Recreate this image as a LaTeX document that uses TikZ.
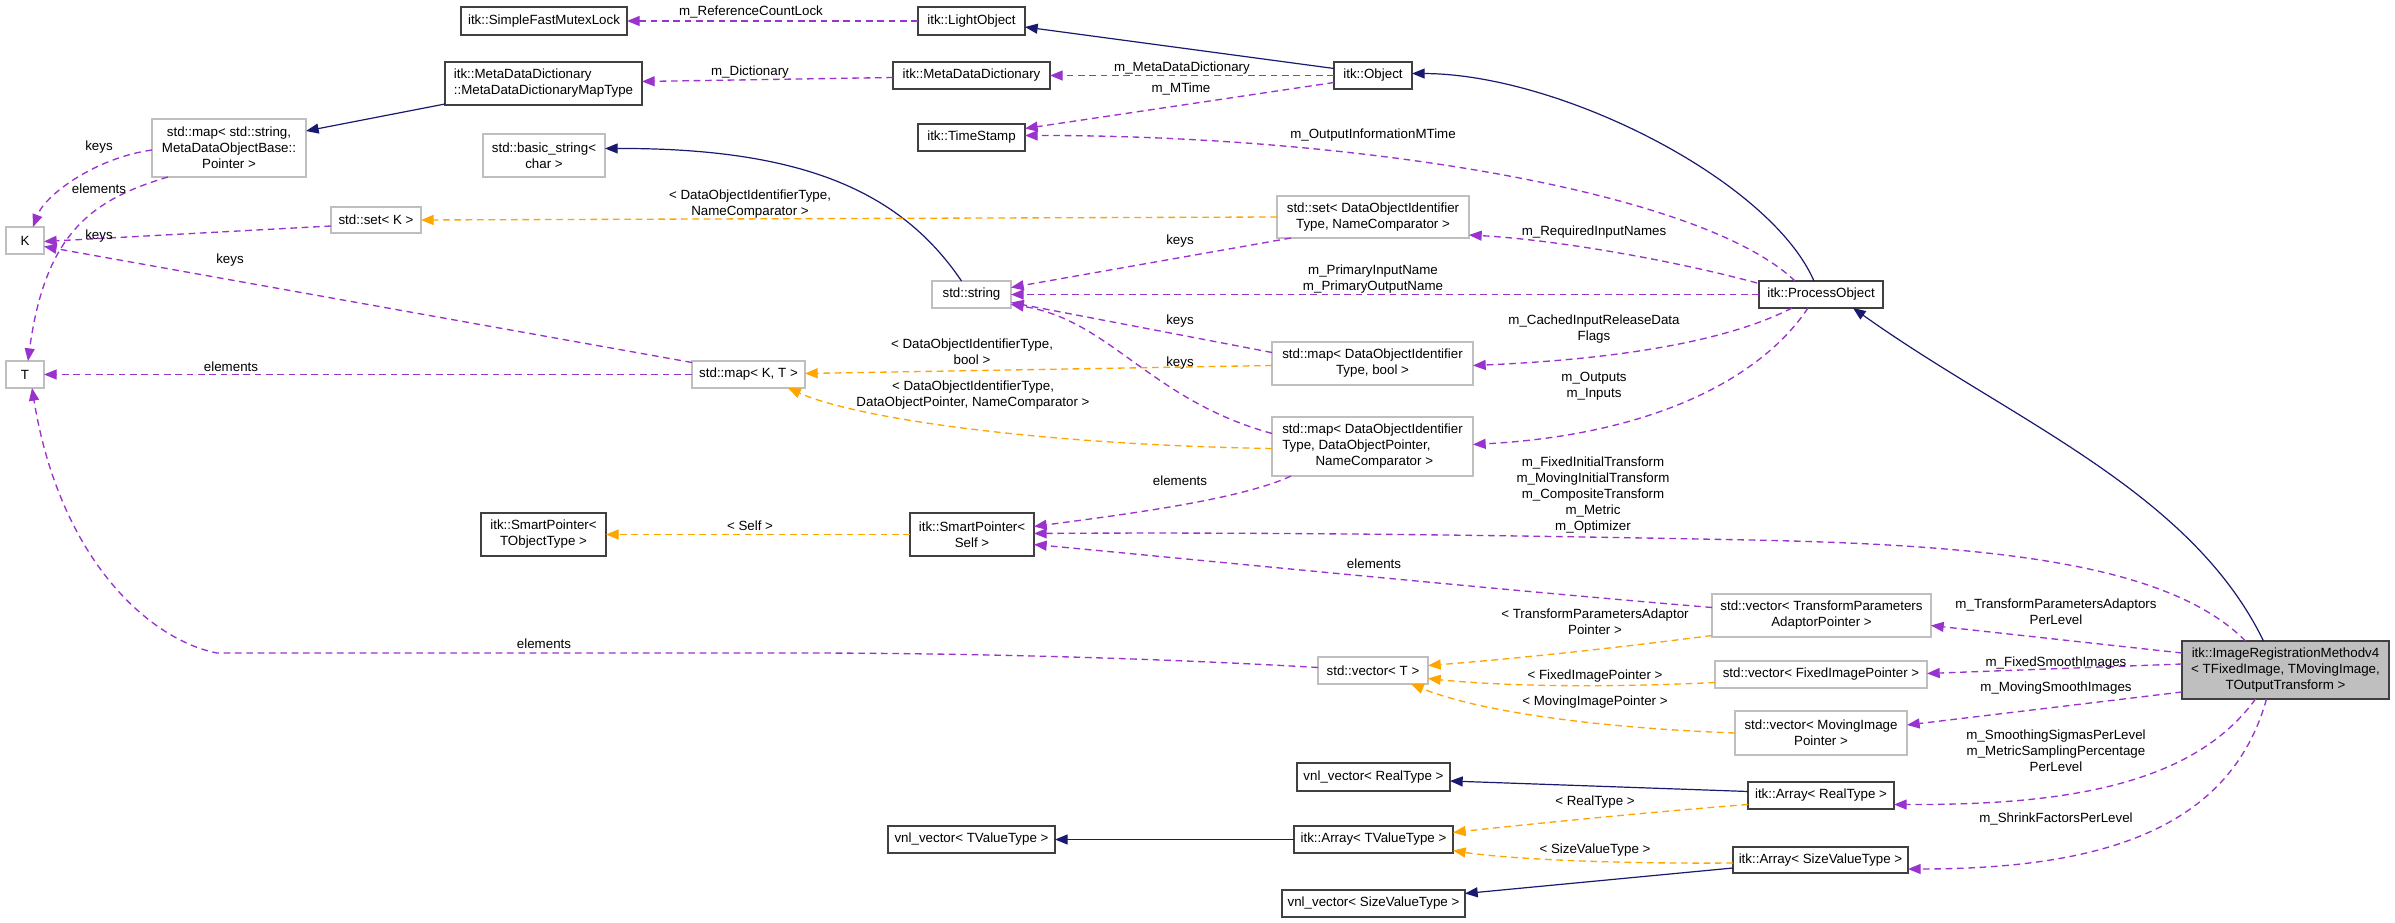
\documentclass[tikz,border=0pt]{standalone}
\usepackage{fontspec}
\setmainfont{Liberation Sans}
\usetikzlibrary{arrows.meta,calc}
\definecolor{navy}{HTML}{191970}
\definecolor{orch}{HTML}{9A32CD}
\definecolor{orng}{HTML}{FFA500}
\definecolor{grayb}{HTML}{BFBFBF}
\definecolor{darkb}{HTML}{404040}
\tikzset{
  box/.style={draw=darkb, line width=0.9pt, fill=white, inner sep=0pt, outer sep=0pt, align=center, font=\fontsize{10}{12}\selectfont},
  gbox/.style={box, draw=grayb},
  mainbox/.style={box, fill=grayb},
  lbl/.style={inner sep=0pt, outer sep=0pt, align=center, font=\fontsize{10}{12}\selectfont},
  tip/.style={-{Triangle[length=9.5pt,width=7.5pt]}},
  inh/.style={draw=navy, line width=0.9pt, tip},
  uses/.style={draw=orch, line width=1pt, dash pattern=on 5pt off 3.5pt, tip},
  tmpl/.style={draw=orng, line width=1pt, dash pattern=on 5pt off 3.5pt, tip}
}
\begin{document}
\begin{tikzpicture}[x=0.75pt,y=-0.75pt]
\fill[white] (0,0) rectangle (2395,923);
\useasboundingbox (0,0) rectangle (2395,923);

% ---- nodes ----
\node[box, minimum width=124.5pt, minimum height=21pt] (sfml) at (544,21) {itk::SimpleFastMutexLock};
\node[box, minimum width=147.75pt, minimum height=32.25pt, align=left] (mddmt) at (543.5,83.5) {itk::MetaDataDictionary\\::MetaDataDictionaryMapType};
\node[gbox, minimum width=115.5pt, minimum height=43.5pt] (stdmapstr) at (229,148) {std::map< std::string,\\MetaDataObjectBase::\\Pointer >};
\node[gbox, minimum width=91.5pt, minimum height=32.25pt] (basicstr) at (544,155.5) {std::basic\_string<\\char >};
\node[gbox, minimum width=67.5pt, minimum height=19.5pt] (setK) at (376,220) {std::set< K >};
\node[gbox, minimum width=28.5pt, minimum height=20.25pt] (K) at (25,240.5) {K};
\node[gbox, minimum width=28.5pt, minimum height=20.25pt] (T) at (25,374.5) {T};
\node[gbox, minimum width=84.75pt, minimum height=20.25pt] (mapKT) at (748.5,374.5) {std::map< K, T >};
\node[box, minimum width=80.25pt, minimum height=21pt] (light) at (971.5,21) {itk::LightObject};
\node[box, minimum width=117.75pt, minimum height=20.25pt] (mdd) at (971.5,75.5) {itk::MetaDataDictionary};
\node[box, minimum width=58.5pt, minimum height=20.25pt] (obj) at (1373,75.5) {itk::Object};
\node[box, minimum width=80.25pt, minimum height=20.25pt] (ts) at (971.5,137.5) {itk::TimeStamp};
\node[gbox, minimum width=144pt, minimum height=31.5pt] (setDO) at (1373,217) {std::set< DataObjectIdentifier\\Type, NameComparator >};
\node[gbox, minimum width=59.25pt, minimum height=20.25pt] (str) at (971.5,294.5) {std::string};
\node[gbox, minimum width=150.75pt, minimum height=32.25pt] (mapbool) at (1372.5,363.5) {std::map< DataObjectIdentifier\\Type, bool >};
\node[gbox, minimum width=150.75pt, minimum height=44.25pt, align=left] (mapdop) at (1372.5,446.5) {std::map< DataObjectIdentifier\\Type, DataObjectPointer,\\\hspace*{25pt}NameComparator >};
\node[box, minimum width=93pt, minimum height=20.25pt] (proc) at (1821,294.5) {itk::ProcessObject};
\node[box, minimum width=93.75pt, minimum height=32.25pt] (spTO) at (543.5,534.5) {itk::SmartPointer<\\TObjectType >};
\node[box, minimum width=93pt, minimum height=32.25pt] (spSelf) at (972,534.5) {itk::SmartPointer<\\Self >};
\node[gbox, minimum width=82.5pt, minimum height=20.25pt] (vecT) at (1373,670.5) {std::vector< T >};
\node[gbox, minimum width=164.25pt, minimum height=32.25pt] (vecTPA) at (1821.5,615.5) {std::vector< TransformParameters\\AdaptorPointer >};
\node[gbox, minimum width=159pt, minimum height=20.25pt] (vecFIP) at (1821,674.5) {std::vector< FixedImagePointer >};
\node[gbox, minimum width=129pt, minimum height=33pt] (vecMIP) at (1821,733) {std::vector< MovingImage\\Pointer >};
\node[mainbox, minimum width=155.25pt, minimum height=43.5pt] (irm) at (2285.5,670) {itk::ImageRegistrationMethodv4\\< TFixedImage, TMovingImage,\\TOutputTransform >};
\node[box, minimum width=109.5pt, minimum height=20.25pt] (arrReal) at (1821,795.5) {itk::Array< RealType >};
\node[box, minimum width=131.25pt, minimum height=19.5pt] (arrSize) at (1820.5,860) {itk::Array< SizeValueType >};
\node[box, minimum width=114.75pt, minimum height=21pt] (vnlReal) at (1373.5,777) {vnl\_vector< RealType >};
\node[box, minimum width=119.25pt, minimum height=20.25pt] (arrTV) at (1373.5,839.5) {itk::Array< TValueType >};
\node[box, minimum width=125.25pt, minimum height=20.25pt] (vnlTV) at (971.5,839.5) {vnl\_vector< TValueType >};
\node[box, minimum width=137.25pt, minimum height=20.25pt] (vnlSize) at (1373.5,903.5) {vnl\_vector< SizeValueType >};

% ---- inheritance ----
\draw[inh] ($(obj.west)+(0,-7)$) -- ($(light.east)+(0,6)$);
\draw[inh] ($(proc.north)+(-7,0)$) .. controls (1770,180) and (1560,74) .. ($(obj.east)+(0,-2)$);
\draw[inh] ($(irm.north)+(-22,0)$) .. controls (2190,490) and (2010,420) .. ($(proc.south)+(32,0)$);
\draw[inh] ($(mddmt.south west)+(0,-1)$) -- ($(stdmapstr.east)+(0,-17)$);
\draw[inh] ($(str.north)+(-10,0)$) .. controls (900,190) and (800,148) .. ($(basicstr.east)+(0,-7)$);
\draw[inh] ($(arrReal.west)+(0,-4)$) -- ($(vnlReal.east)+(0,4)$);
\draw[inh] (arrTV.west) -- (vnlTV.east);
\draw[inh] ($(arrSize.west)+(0,8)$) -- ($(vnlSize.east)+(0,-10)$);

% ---- usage ----
\draw[uses] (light.west) -- (sfml.east);
\draw[uses] ($(mdd.west)+(0,2)$) -- ($(mddmt.east)+(0,-2)$);
\draw[uses] (obj.west) -- (mdd.east);
\draw[uses] ($(obj.west)+(0,7)$) -- ($(ts.east)+(0,-9)$);
\draw[uses] ($(proc.north)+(-26,0)$) .. controls (1700,190) and (1350,135) .. ($(ts.east)+(0,-2)$);
\draw[uses] ($(stdmapstr.west)+(0,2)$) .. controls (95,158) and (45,195) .. ($(K.north)+(8,0)$);
\draw[uses] ($(stdmapstr.south west)+(16,0)$) .. controls (90,200) and (45,235) .. ($(T.north)+(3,0)$);
\draw[uses] ($(setK.west)+(0,6)$) -- ($(K.east)+(0,1)$);
\draw[uses] ($(mapKT.west)+(0,-12)$) -- ($(K.east)+(0,6)$);
\draw[uses] (mapKT.west) -- (T.east);
\draw[uses] ($(vecT.west)+(0,-3)$) .. controls (1100,655) and (900,653) .. (800,653) -- (217,653) .. controls (150,640) and (60,560) .. ($(T.south)+(7,0)$);
\draw[uses] ($(setDO.south west)+(14,0)$) -- ($(str.east)+(0,-7)$);
\draw[uses] (proc.west) -- (str.east);
\draw[uses] ($(mapbool.west)+(0,-11)$) -- ($(str.east)+(0,8)$);
\draw[uses] ($(mapdop.west)+(0,-13)$) .. controls (1150,400) and (1110,320) .. ($(str.east)+(0,10)$);
\draw[uses] ($(proc.north west)+(-2,2)$) .. controls (1680,262) and (1560,240) .. ($(setDO.east)+(0,18)$);
\draw[uses] ($(proc.south)+(-29,0)$) .. controls (1720,345) and (1600,360) .. ($(mapbool.east)+(0,2)$);
\draw[uses] ($(proc.south)+(-13,0)$) .. controls (1760,380) and (1650,435) .. ($(mapdop.east)+(0,-2)$);
\draw[uses] ($(mapdop.south west)+(19,0)$) .. controls (1240,500) and (1120,515) .. ($(spSelf.east)+(0,-8)$);
\draw[uses] ($(irm.north)+(-40,0)$) .. controls (2170,565) and (2000,545) .. (1750,540) .. controls (1500,535) and (1250,532) .. ($(spSelf.east)+(0,-1)$);
\draw[uses] ($(vecTPA.west)+(0,-8)$) .. controls (1500,590) and (1200,560) .. ($(spSelf.east)+(0,10)$);
\draw[uses] ($(irm.west)+(0,-17)$) -- ($(vecTPA.east)+(0,10)$);
\draw[uses] ($(irm.west)+(0,-6)$) -- ($(vecFIP.east)+(0,-1)$);
\draw[uses] ($(irm.west)+(0,22)$) -- ($(vecMIP.east)+(0,-8)$);
\draw[uses] ($(irm.south)+(-30,0)$) .. controls (2190,790) and (2050,805) .. ($(arrReal.east)+(0,9)$);
\draw[uses] ($(irm.south)+(-19,0)$) .. controls (2230,830) and (2100,869) .. ($(arrSize.east)+(0,9)$);

% ---- template instances ----
\draw[tmpl] (setDO.west) -- (setK.east);
\draw[tmpl] ($(mapbool.west)+(0,2)$) -- ($(mapKT.east)+(0,-1)$);
\draw[tmpl] ($(mapdop.west)+(0,2)$) .. controls (1050,445) and (860,420) .. ($(mapKT.south east)+(-17,0)$);
\draw[tmpl] (spSelf.west) -- (spTO.east);
\draw[tmpl] ($(vecTPA.west)+(0,20)$) .. controls (1600,650) and (1500,660) .. ($(vecT.east)+(0,-5)$);
\draw[tmpl] ($(vecFIP.west)+(0,8)$) .. controls (1600,688) and (1500,686) .. ($(vecT.east)+(0,8)$);
\draw[tmpl] (vecMIP.west) .. controls (1600,728) and (1480,712) .. ($(vecT.south east)+(-17,0)$);
\draw[tmpl] ($(arrReal.west)+(0,9)$) .. controls (1650,812) and (1520,825) .. ($(arrTV.east)+(0,-7)$);
\draw[tmpl] ($(arrSize.west)+(0,3)$) .. controls (1600,864) and (1500,858) .. ($(arrTV.east)+(0,11)$);

% ---- labels ----
\node[lbl] (l1) at (751,12) {m\_ReferenceCountLock};
\node[lbl] (l2) at (750,72) {m\_Dictionary};
\node[lbl] (l3) at (1182,68) {m\_MetaDataDictionary};
\node[lbl] (l4) at (1181,89) {m\_MTime};
\node[lbl] (l5) at (1373,135) {m\_OutputInformationMTime};
\node[lbl] (l6) at (99,147) {keys};
\node[lbl] (l7) at (99,189) {elements};
\node[lbl] (l8) at (750,204) {< DataObjectIdentifierType,\\NameComparator >};
\node[lbl] (l9) at (99,236) {keys};
\node[lbl] (l10) at (1180,241) {keys};
\node[lbl] (l11) at (1594,232) {m\_RequiredInputNames};
\node[lbl] (l12) at (230,260) {keys};
\node[lbl] (l13) at (1373,279) {m\_PrimaryInputName\\m\_PrimaryOutputName};
\node[lbl] (l14) at (1180,321) {keys};
\node[lbl] (l15) at (1594,329) {m\_CachedInputReleaseData\\Flags};
\node[lbl] (l16) at (972,352) {< DataObjectIdentifierType,\\bool >};
\node[lbl] (l17) at (1180,363) {keys};
\node[lbl] (l18) at (231,367) {elements};
\node[lbl] (l19) at (1594,386) {m\_Outputs\\m\_Inputs};
\node[lbl] (l20) at (973,395) {< DataObjectIdentifierType,\\DataObjectPointer, NameComparator >};
\node[lbl] (l21) at (1180,481) {elements};
\node[lbl] (l22) at (1593,495) {m\_FixedInitialTransform\\m\_MovingInitialTransform\\m\_CompositeTransform\\m\_Metric\\m\_Optimizer};
\node[lbl] (l23) at (750,526) {< Self >};
\node[lbl] (l24) at (1374,564) {elements};
\node[lbl] (l25) at (1595,622) {< TransformParametersAdaptor\\Pointer >};
\node[lbl] (l26) at (2056,612) {m\_TransformParametersAdaptors\\PerLevel};
\node[lbl] (l27) at (544,644) {elements};
\node[lbl] (l28) at (2056,663) {m\_FixedSmoothImages};
\node[lbl] (l29) at (1595,676) {< FixedImagePointer >};
\node[lbl] (l30) at (2056,688) {m\_MovingSmoothImages};
\node[lbl] (l31) at (1595,702) {< MovingImagePointer >};
\node[lbl] (l32) at (2056,751) {m\_SmoothingSigmasPerLevel\\m\_MetricSamplingPercentage\\PerLevel};
\node[lbl] (l33) at (1595,802) {< RealType >};
\node[lbl] (l34) at (2056,819) {m\_ShrinkFactorsPerLevel};
\node[lbl] (l35) at (1595,850) {< SizeValueType >};
\end{tikzpicture}
\end{document}
